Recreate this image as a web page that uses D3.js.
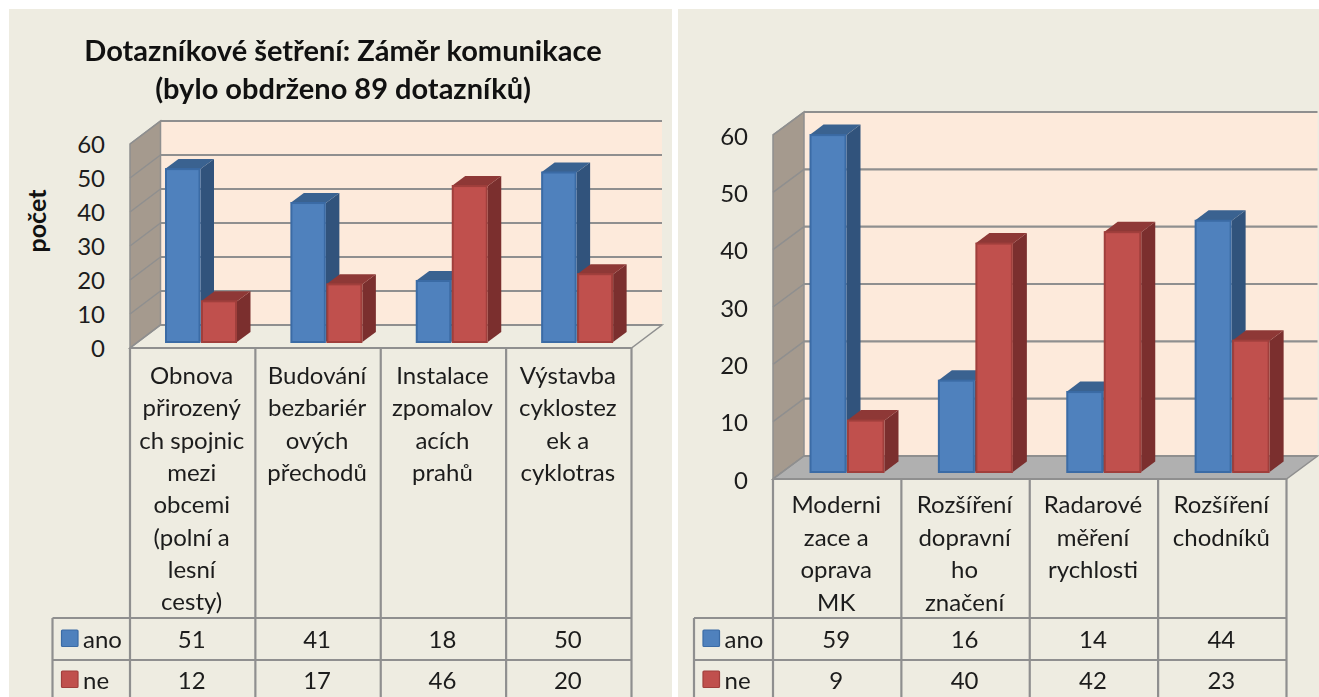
<!DOCTYPE html>
<html><head><meta charset="utf-8">
<script src="https://cdn.jsdelivr.net/npm/d3@7"></script>
<style>
html,body{margin:0;padding:0;background:#fff;overflow:hidden}
svg{display:block;filter:blur(0.5px)}
text{font-family:Lato,"Open Sans",sans-serif;fill:#1c1c1c}
</style></head><body>
<svg id="c" width="1319" height="697"></svg>
<script>
const titleLines = ["Dotazníkové šetření: Záměr komunikace", "(bylo obdrženo 89 dotazníků)"];
const yAxisTitle = "počet";
const yTicks = [0, 10, 20, 30, 40, 50, 60];
const seriesNames = ["ano", "ne"];
const leftCategories = [
  ["Obnova","přirozený","ch spojnic","mezi","obcemi","(polní a","lesní","cesty)"],
  ["Budování","bezbariér","ových","přechodů"],
  ["Instalace","zpomalov","acích","prahů"],
  ["Výstavba","cyklostez","ek a","cyklotras"]
];
const leftAno = [51, 41, 18, 50];
const leftNe = [12, 17, 46, 20];
const rightCategories = [
  ["Moderni","zace a","oprava","MK"],
  ["Rozšíření","dopravní","ho","značení"],
  ["Radarové","měření","rychlosti"],
  ["Rozšíření","chodníků"]
];
const rightAno = [59, 16, 14, 44];
const rightNe = [9, 40, 42, 23];

const colors = {
  bg:"#eeece1", wall:"#fdeadb", side:"#a59a8e", grid:"#8f8f8f",
  ano:{front:"#4f81bd",stroke:"#3b6ba5",top:"#3a6290",side:"#31537c"},
  ne:{front:"#c0504d",stroke:"#a03f3c",top:"#8e3836",side:"#7b2f2e"}
};
const svg = d3.select("#c");

function panel(x0,x1){ svg.append("rect").attr("x",x0).attr("y",9).attr("width",x1-x0).attr("height",688).attr("fill",colors.bg); }
panel(9,672); panel(678,1319);

function chart(o){
  const g = svg.append("g");
  const seriesValues = [o.ano,o.ne], keys=["ano","ne"];
  const band = d3.scaleBand().domain(d3.range(o.cats.length)).range([o.x0,o.x1]);
  const yF = d3.scaleLinear().domain([0,60]).range([o.bot,o.top]);
  const yB = v => yF(v)-o.dy;
  const yBar = d3.scaleLinear().domain([0,60]).range([o.barBase,o.barBase-60*o.barUnit]);
  const line = d3.line();

  g.append("rect").attr("x",o.x0+o.dx).attr("y",yB(60)).attr("width",o.x1-o.x0).attr("height",yB(0)-yB(60)).attr("fill",colors.wall);
  g.append("path").attr("d",line([[o.x0,yF(0)],[o.x0,yF(60)],[o.x0+o.dx,yB(60)],[o.x0+o.dx,yB(0)]])+"Z").attr("fill",colors.side).attr("stroke",colors.grid).attr("stroke-width",1.5);
  g.append("path").attr("d",line([[o.x0,yF(0)],[o.x1,yF(0)],[o.x1+o.dx,yB(0)],[o.x0+o.dx,yB(0)]])+"Z").attr("fill",o.floor).attr("stroke",colors.grid).attr("stroke-width",1.5);
  yTicks.forEach(t=>{
    g.append("path").attr("d",line([[o.x0+o.dx,yB(t)],[o.x1+o.dx,yB(t)]])).attr("stroke",colors.grid).attr("stroke-width",2.2).attr("fill","none");
    g.append("path").attr("d",line([[o.x0,yF(t)],[o.x0+o.dx,yB(t)]])).attr("stroke",colors.grid).attr("stroke-width",1.5).attr("fill","none");
  });
  o.cats.forEach((_,i)=>{
    keys.forEach((k,s)=>{
      const v = seriesValues[s][i], c = colors[k];
      const x = band(i)+o.barOff+s*o.barW, w=o.barW-(s?0:0.5);
      const yT = yBar(v), yb = yBar(0), bx=o.bdx, by=o.bdy;
      g.append("path").attr("d",line([[x+w,yb],[x+w,yT],[x+w+bx,yT-by],[x+w+bx,yb-by]])+"Z").attr("fill",c.side);
      g.append("path").attr("d",line([[x,yT],[x+w,yT],[x+w+bx,yT-by],[x+bx,yT-by]])+"Z").attr("fill",c.top);
      g.append("rect").attr("x",x+1).attr("y",yT).attr("width",w-2).attr("height",yb-yT).attr("fill",c.front).attr("stroke",c.stroke).attr("stroke-width",2);
    });
  });
  const ax = g.append("g").attr("transform",`translate(${o.labelX},${o.labelDy})`)
    .call(d3.axisLeft(yF).tickValues(yTicks).tickSize(0).tickPadding(0));
  ax.select(".domain").remove();
  ax.selectAll("text").attr("font-size",o.fs).style("font-family","Lato,'Open Sans',sans-serif").attr("fill","#1c1c1c");

  const lineG = (a,b)=>g.append("path").attr("d",line([a,b])).attr("stroke",colors.grid).attr("stroke-width",2.2).attr("fill","none");
  band.domain().forEach(i=>lineG([band(i),o.bot],[band(i),697]));
  lineG([o.x1,o.bot],[o.x1,697]);
  lineG([o.x0,o.bot],[o.x1,o.bot]);
  lineG([o.tl,o.r1],[o.tl,697]);
  lineG([o.tl,o.r1],[o.x1,o.r1]);
  lineG([o.tl,o.r2],[o.x1,o.r2]);
  o.cats.forEach((ls,i)=>{
    const cx = band(i)+band.bandwidth()/2+o.catDx;
    ls.forEach((t,j)=>g.append("text").attr("x",cx).attr("y",o.catY+j*o.catLH).attr("text-anchor","middle").attr("font-size",o.fs).attr("dominant-baseline","central").text(t));
    keys.forEach((k,s)=>g.append("text").attr("x",cx).attr("y",o.rowY[s]).attr("text-anchor","middle").attr("font-size",o.fs).attr("dominant-baseline","central").text(seriesValues[s][i]));
  });
  keys.forEach((k,s)=>{
    g.append("rect").attr("x",o.tl+9).attr("y",o.rowY[s]-8.5).attr("width",16.5).attr("height",16.5).attr("rx",1).attr("fill",colors[k].front).attr("stroke",colors[k].stroke).attr("stroke-width",1.2);
    g.append("text").attr("x",o.tl+30.5).attr("y",o.rowY[s]-0.5).attr("font-size",o.fs).attr("dominant-baseline","central").text(seriesNames[s]);
  });
}

chart({cats:leftCategories,ano:leftAno,ne:leftNe,x0:130,x1:631.5,dx:30.5,dy:23,top:144,bot:348,floor:colors.bg,
  barBase:342,barUnit:3.39,barOff:35,barW:36,bdx:13.5,bdy:10,labelX:105,labelDy:0.5,fs:24,
  r1:618,r2:660,tl:52.5,catY:374.5,catLH:32.3,rowY:[638.5,679.5],catDx:-1});
chart({cats:rightCategories,ano:rightAno,ne:rightNe,x0:773,x1:1286.5,dx:31,dy:23,top:135,bot:479,floor:"#b0b0b0",
  barBase:472,barUnit:5.71,barOff:36.5,barW:37.5,bdx:14,bdy:10.5,labelX:748,labelDy:1.5,fs:24,
  r1:618,r2:660,tl:694,catY:503.5,catLH:32.5,rowY:[638.5,679.5],catDx:-1});

titleLines.forEach((t,i)=>svg.append("text").attr("x",343).attr("y",[49.5,87.5][i]).attr("text-anchor","middle").attr("dominant-baseline","central").attr("font-size",29).attr("font-weight",700).style("fill","#111").text(t));
svg.append("text").attr("transform","translate(36,221) rotate(-90)").attr("text-anchor","middle").attr("dominant-baseline","central").attr("font-size",25).attr("font-weight",700).style("fill","#111").text(yAxisTitle);
</script>
</body></html>
